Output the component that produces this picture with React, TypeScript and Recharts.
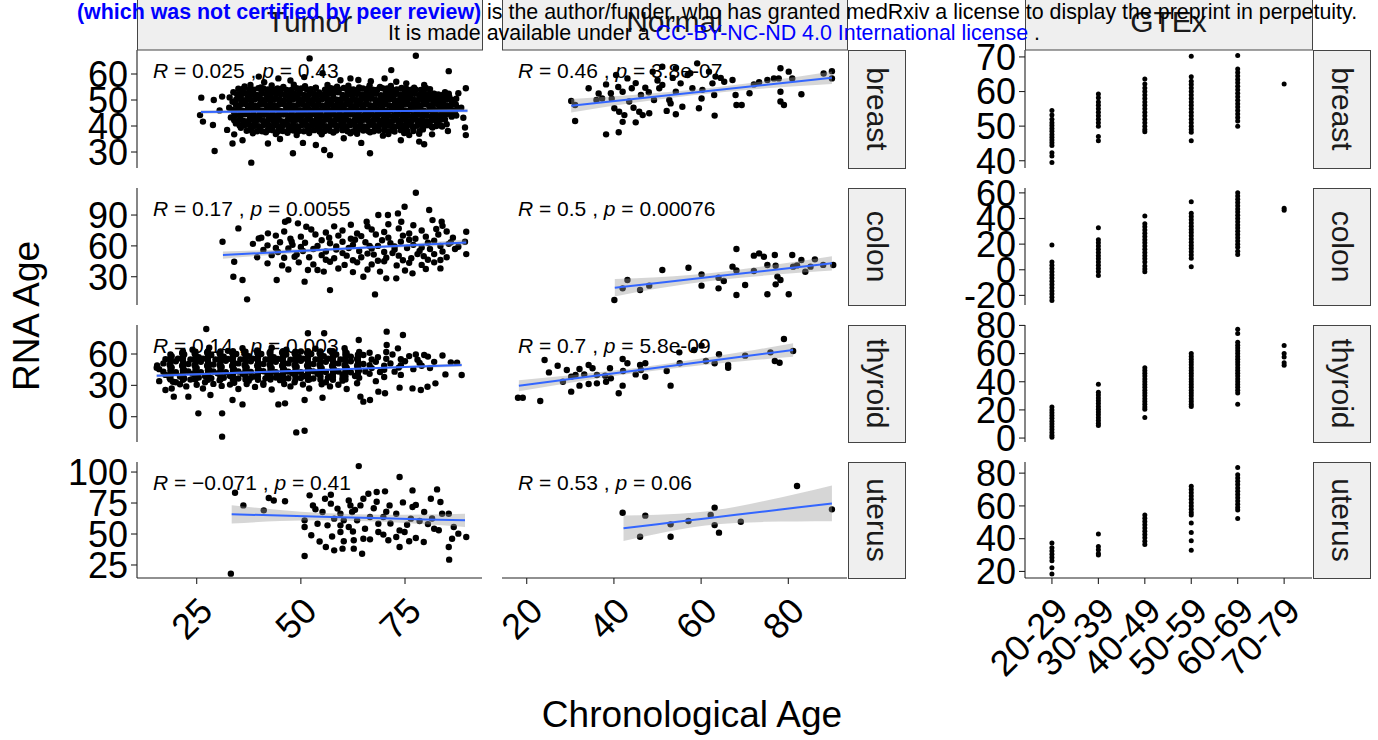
import React from "react";
import { ComposedChart, Scatter, Line, Area, XAxis, YAxis } from "recharts";

type Pt = [number, number];
type FitRow = [number, number, number, number]; // age, fit, lower, upper

const FONT = "'Liberation Sans', Arial, Helvetica, sans-serif";

const tissues = ["breast", "colon", "thyroid", "uterus"];
const ageGroups = ["20-29", "30-39", "40-49", "50-59", "60-69", "70-79"];

const tumorR = ["0.025", "0.17", "0.14", "\u22120.071"];
const tumorP = ["0.43", "0.0055", "0.003", "0.41"];
const normalR = ["0.46", "0.5", "0.7", "0.53"];
const normalP = ["3.8e-07", "0.00076", "5.8e-09", "0.06"];

const tumorAgeTicks = [25, 50, 75];
const normalAgeTicks = [20, 40, 60, 80];
const gtexAgeTicks = [1, 2, 3, 4, 5, 6];
const rnaTicks = [
  [30, 40, 50, 60],
  [30, 60, 90],
  [0, 30, 60],
  [25, 50, 75, 100],
];
const gtexTicks = [
  [40, 50, 60, 70],
  [-20, 0, 20, 40, 60],
  [0, 20, 40, 60, 80],
  [20, 40, 60, 80],
];

// Tumor samples: [chronological age, RNA age]
const tumorBreast: Pt[] = [
  [52.1, 66], [77.6, 67], [85.5, 61.1], [71.7, 61.5], [61.9, 58.3], [63.8, 57.7], [26.1, 50.9], [29.1, 50],
  [31.1, 51.3], [26.5, 41.7], [28.9, 40.4], [32.3, 38.5], [34, 36.8], [29.3, 30.4], [38.1, 25.9], [48.1, 29.5],
  [57, 28.8], [66.6, 29.5], [79.6, 33], [78.4, 34], [89.6, 36.5], [89.4, 39.4], [89.6, 54.5], [87.8, 52.6],
  [89, 43.2], [83.9, 39.8], [85.3, 38.1], [76, 36.5], [79.6, 55.8], [77.2, 54.7], [82.7, 50.6], [84.3, 50.6],
  [42.1, 33.3], [33.6, 33.3], [53.6, 32.7], [55.6, 30.8], [60.3, 35.3], [61.9, 37.2], [69.7, 36.3], [72.1, 38.5],
  [39.9, 59], [37.9, 55.8], [44.6, 58.3], [57.2, 54.5], [55.2, 60.3], [70.1, 58.3], [72.9, 57], [75.3, 56.4],
  [88.5, 47], [87, 45], [86.5, 49.5], [25.8, 44.2], [30.5, 46], [36, 34.5], [45, 35], [50.5, 33.5],
  [64.5, 33.5], [74, 34.5], [81.5, 36.8], [47.5, 57.5], [50.8, 58.8], [59.5, 57.6], [66.8, 57.2], [41.2, 56.8],
  [36.5, 55.2], [40.4, 54.8], [43, 55.6], [45.8, 55], [48.3, 55.9], [51, 55.3], [53.6, 54.7], [56.4, 55.8],
  [58.7, 55.1], [61.4, 55.5], [64, 54.8], [66.5, 55.6], [69, 55], [71.6, 55.4], [74.2, 54.6], [78.8, 53.9], [81, 54.2],
  [33.8, 53], [35.9, 53.4], [38.3, 52.9], [40.6, 53.5], [42.8, 53.1], [45.1, 53.6], [47.5, 52.8], [49.7, 53.3],
  [52, 53.7], [54.4, 52.9], [56.6, 53.4], [58.9, 53], [61.2, 53.6], [63.5, 52.8], [65.8, 53.3], [68.1, 53.8],
  [70.4, 52.9], [72.7, 53.4], [75, 53], [77.3, 52.6], [79.5, 53.2], [82, 52.4], [84.6, 53],
  [32.9, 51], [35, 51.5], [37.2, 50.9], [39.5, 51.4], [41.8, 51.1], [44, 50.7], [46.3, 51.6], [48.6, 51],
  [50.9, 51.3], [53.2, 50.8], [55.5, 51.5], [57.8, 51.1], [60.1, 50.7], [62.4, 51.4], [64.7, 51], [67, 51.6],
  [69.3, 50.8], [71.6, 51.3], [73.9, 51], [76.2, 51.5], [78.5, 50.9], [80.8, 51.2], [83.1, 50.8], [85.6, 51.4],
  [33.6, 49.3], [35.9, 48.9], [38.1, 49.5], [40.4, 49], [42.7, 49.4], [45, 48.8], [47.3, 49.5], [49.6, 49.1],
  [51.9, 48.7], [54.2, 49.4], [56.5, 49], [58.8, 49.6], [61.1, 48.9], [63.4, 49.3], [65.7, 48.8], [68, 49.5],
  [70.3, 49.1], [72.6, 48.7], [74.9, 49.4], [77.2, 49], [79.5, 49.5], [81.8, 48.8], [84.1, 49.2], [86.3, 48.6],
  [32.8, 47], [35.1, 47.5], [37.3, 46.9], [39.6, 47.3], [41.9, 47.6], [44.2, 46.8], [46.5, 47.2], [48.8, 47.7],
  [51.1, 46.9], [53.4, 47.3], [55.7, 47.6], [58, 47], [60.3, 47.4], [62.6, 46.8], [64.9, 47.5], [67.2, 47.1],
  [69.5, 46.7], [71.8, 47.4], [74.1, 47], [76.4, 47.6], [78.7, 46.8], [81, 47.3], [83.3, 47], [85.5, 47.5], [87.6, 46.9],
  [34, 45.1], [36.3, 45.5], [38.6, 44.9], [40.9, 45.3], [43.2, 45.6], [45.5, 44.8], [47.8, 45.2], [50.1, 45.6],
  [52.4, 44.9], [54.7, 45.4], [57, 45], [59.3, 45.5], [61.6, 44.8], [63.9, 45.3], [66.2, 45.7], [68.5, 45],
  [70.8, 45.4], [73.1, 44.8], [75.4, 45.3], [77.7, 45.6], [80, 44.9], [82.3, 45.2], [84.6, 45.6], [86.8, 44.7],
  [33.2, 43.3], [35.5, 42.9], [37.8, 43.5], [40.1, 43], [42.4, 43.4], [44.7, 42.8], [47, 43.5], [49.3, 43.1],
  [51.6, 42.7], [53.9, 43.4], [56.2, 43], [58.5, 43.6], [60.8, 42.9], [63.1, 43.3], [65.4, 42.8], [67.7, 43.5],
  [70, 43.1], [72.3, 42.7], [74.6, 43.4], [76.9, 43], [79.2, 43.5], [81.5, 42.8], [83.8, 43.2], [86.2, 43.6],
  [34.4, 41], [36.7, 41.5], [39, 40.9], [41.3, 41.3], [43.6, 41.6], [45.9, 40.8], [48.2, 41.2], [50.5, 41.7],
  [52.8, 40.9], [55.1, 41.4], [57.4, 41], [59.7, 41.5], [62, 40.8], [64.3, 41.3], [66.6, 41.7], [68.9, 41],
  [71.2, 41.4], [73.5, 40.8], [75.8, 41.3], [78.1, 41.6], [80.4, 40.9], [82.7, 41.2], [85, 40.7],
  [35.6, 39.3], [37.9, 38.8], [40.2, 39.4], [42.5, 39], [44.8, 39.5], [47.1, 38.8], [49.4, 39.2], [51.7, 39.6],
  [54, 38.9], [56.3, 39.3], [58.6, 38.7], [60.9, 39.4], [63.2, 39], [65.5, 39.5], [67.8, 38.8], [70.1, 39.3],
  [72.4, 39.6], [74.7, 38.9], [77, 39.2], [79.3, 38.7], [81.6, 39.4],
  [38.5, 37.2], [41.6, 37.6], [44, 36.9], [46.8, 37.4], [49, 36.5], [52, 37.3], [55, 36.8], [57.8, 37.5],
  [63.5, 37], [66.6, 37.6], [71, 36.9], [74.8, 37.3], [78.4, 37],
  [35, 54.3], [37.6, 54], [39.8, 54.5], [42.1, 54.1], [44.4, 54.4], [46.6, 53.9], [49, 54.5], [51.3, 54.2],
  [53.5, 54.6], [55.8, 54], [58.1, 54.3], [60.3, 54.6], [62.6, 54.1], [64.9, 54.4], [67.3, 54], [69.6, 54.5],
  [71.8, 54.1], [74.1, 54.4], [76.5, 54], [80, 54.6],
  [34.7, 52.2], [37, 52.5], [39.4, 51.9], [41.7, 52.3], [44, 52.6], [46.2, 52], [48.5, 52.4], [50.8, 51.9],
  [53.1, 52.5], [55.4, 52.1], [57.7, 52.4], [60, 51.9], [62.3, 52.5], [64.6, 52.1], [66.9, 52.3], [69.2, 51.8],
  [71.5, 52.4], [73.8, 52.1], [76.1, 52.5], [78.4, 51.9], [80.7, 52.3], [83, 52.1], [85.5, 52.4],
  [34.5, 50.2], [36.8, 49.9], [39.1, 50.4], [41.4, 50], [43.7, 50.3], [46, 49.8], [48.3, 50.4], [50.6, 50.1],
  [52.9, 49.9], [55.2, 50.4], [57.5, 50], [59.8, 50.3], [62.1, 49.8], [64.4, 50.2], [66.7, 50.5], [69, 49.9],
  [71.3, 50.2], [73.6, 49.8], [75.9, 50.4], [78.2, 50], [80.5, 50.3], [82.8, 49.9], [85.1, 50.2], [87.3, 50.5],
  [34.4, 48.2], [36.7, 48.5], [39, 47.9], [41.3, 48.3], [43.6, 48], [45.9, 48.4], [48.2, 47.9], [50.5, 48.3],
  [52.8, 48.5], [55.1, 47.9], [57.4, 48.2], [59.7, 48.4], [62, 47.8], [64.3, 48.3], [66.6, 48], [68.9, 48.5],
  [71.2, 47.9], [73.5, 48.2], [75.8, 48.4], [78.1, 47.9], [80.4, 48.2], [82.7, 48.5], [85, 47.9], [87.2, 48.3],
  [33.7, 46.2], [36, 45.9], [38.3, 46.4], [40.6, 46], [42.9, 46.3], [45.2, 45.8], [47.5, 46.4], [49.8, 46.1],
  [52.1, 46.3], [54.4, 45.9], [56.7, 46.2], [59, 46.5], [61.3, 45.9], [63.6, 46.2], [65.9, 46], [68.2, 46.4],
  [70.5, 45.9], [72.8, 46.3], [75.1, 46], [77.4, 46.4], [79.7, 45.8], [82, 46.2], [84.3, 46.5], [86.6, 46],
  [34.3, 44.2], [36.6, 44.5], [38.9, 43.9], [41.2, 44.3], [43.5, 44], [45.8, 44.4], [48.1, 43.9], [50.4, 44.2],
  [52.7, 44.5], [55, 43.9], [57.3, 44.3], [59.6, 44], [61.9, 44.4], [64.2, 43.8], [66.5, 44.2], [68.8, 44.5],
  [71.1, 43.9], [73.4, 44.3], [75.7, 44], [78, 44.4], [80.3, 43.9], [82.6, 44.2], [84.9, 44.5], [87.3, 44],
  [34, 42.2], [36.3, 41.9], [38.6, 42.4], [40.9, 42], [43.2, 42.3], [45.5, 41.8], [47.8, 42.4], [50.1, 42.1],
  [52.4, 42.3], [54.7, 41.9], [57, 42.2], [59.3, 42.5], [61.6, 41.9], [63.9, 42.2], [66.2, 42], [68.5, 42.4],
  [70.8, 41.9], [73.1, 42.3], [75.4, 42], [77.7, 42.4], [80, 41.8], [82.3, 42.2], [84.6, 42.5],
  [35.3, 40.2], [37.6, 40.5], [39.9, 39.9], [42.2, 40.3], [44.5, 40], [46.8, 40.4], [49.1, 39.9], [51.4, 40.2],
  [53.7, 40.5], [56, 39.9], [58.3, 40.3], [60.6, 40], [62.9, 40.4], [65.2, 39.8], [67.5, 40.2], [69.8, 40.5],
  [72.1, 39.9], [74.4, 40.3], [76.7, 40], [79, 40.4], [81.3, 39.9], [83.6, 40.2],
  [37, 38.2], [39.5, 38], [42, 38.4], [44.5, 37.9], [47, 38.3], [49.5, 38.1], [52, 38.4], [54.5, 37.9],
  [57, 38.2], [60, 38.4], [62.5, 37.9], [65, 38.3], [67.5, 38], [70, 38.4], [72.5, 37.9], [75.5, 38.2], [78.5, 38],
  [36.2, 54.3], [38.7, 54], [41, 54.4], [43.3, 54.1], [45.5, 54.3], [47.8, 54], [50.1, 54.4], [52.4, 54.2],
  [57, 54.3], [59.2, 54], [61.5, 54.4], [63.8, 54.1], [66.1, 54.3], [68.4, 54], [70.7, 54.4], [73, 54.1], [75.3, 54.3], [77.6, 54],
  [35.9, 52.3], [38.2, 52], [40.5, 52.4], [42.8, 52.1], [45.1, 52.3], [47.4, 52], [49.7, 52.4], [52, 52.2],
  [54.3, 52], [56.6, 52.4], [61.2, 52.1], [63.5, 52.3], [65.8, 52], [68.1, 52.4], [70.4, 52.1], [72.7, 52.3],
  [75, 52], [77.3, 52.4], [79.6, 52.1], [81.9, 52.3], [84.2, 52],
  [35.7, 50.3], [38, 50], [40.3, 50.4], [42.6, 50.1], [44.9, 50.3], [47.2, 50], [49.5, 50.4], [51.8, 50.2],
  [54.1, 50], [56.4, 50.4], [58.7, 50.1], [61, 50.3], [63.3, 50], [65.6, 50.4], [67.9, 50.1], [70.2, 50.3],
  [72.5, 50], [74.8, 50.4], [77.1, 50.1], [79.4, 50.3], [81.7, 50], [84, 50.4], [86.2, 50.1],
  [35.6, 48.3], [37.9, 48], [40.2, 48.4], [42.5, 48.1], [44.8, 48.3], [47.1, 48], [49.4, 48.4], [51.7, 48.2],
  [54, 48], [56.3, 48.4], [58.6, 48.1], [60.9, 48.3], [63.2, 48], [65.5, 48.4], [67.8, 48.1], [70.1, 48.3],
  [72.4, 48], [74.7, 48.4], [77, 48.1], [79.3, 48.3], [81.6, 48], [83.9, 48.4], [86.1, 48.1],
  [34.9, 46.3], [37.2, 46], [39.5, 46.4], [41.8, 46.1], [44.1, 46.3], [46.4, 46], [48.7, 46.4], [51, 46.2],
  [53.3, 46], [55.6, 46.4], [57.9, 46.1], [60.2, 46.3], [62.5, 46], [64.8, 46.4], [67.1, 46.1], [69.4, 46.3],
  [71.7, 46], [74, 46.4], [76.3, 46.1], [78.6, 46.3], [80.9, 46], [83.2, 46.4], [85.5, 46.1],
  [35.5, 44.3], [37.8, 44], [40.1, 44.4], [42.4, 44.1], [44.7, 44.3], [47, 44], [49.3, 44.4], [51.6, 44.2],
  [53.9, 44], [56.2, 44.4], [58.5, 44.1], [60.8, 44.3], [63.1, 44], [65.4, 44.4], [67.7, 44.1], [70, 44.3],
  [72.3, 44], [74.6, 44.4], [76.9, 44.1], [79.2, 44.3], [81.5, 44], [83.8, 44.4], [86.1, 44.1],
  [35.2, 42.3], [37.5, 42], [39.8, 42.4], [42.1, 42.1], [44.4, 42.3], [46.7, 42], [49, 42.4], [51.3, 42.2],
  [53.6, 42], [55.9, 42.4], [58.2, 42.1], [60.5, 42.3], [62.8, 42], [65.1, 42.4], [67.4, 42.1], [69.7, 42.3],
  [72, 42], [74.3, 42.4], [76.6, 42.1], [78.9, 42.3], [81.2, 42], [83.5, 42.4],
  [36.5, 40.3], [38.8, 40], [41.1, 40.4], [43.4, 40.1], [45.7, 40.3], [48, 40], [50.3, 40.4], [52.6, 40.2],
  [54.9, 40], [57.2, 40.4], [59.5, 40.1], [61.8, 40.3], [64.1, 40], [66.4, 40.4], [68.7, 40.1], [71, 40.3],
  [73.3, 40], [75.6, 40.4], [77.9, 40.1], [80.2, 40.3], [82.5, 40],
  [38.2, 38.3], [40.7, 38], [43.2, 38.4], [45.7, 38.1], [48.2, 38.3], [50.7, 38], [53.2, 38.4], [55.7, 38.1],
  [58.5, 38.3], [61.2, 38], [63.7, 38.4], [66.2, 38.1], [68.7, 38.3], [71.2, 38], [74, 38.4], [77, 38.1],
];

const tumorColon: Pt[] = [
  [77.6, 111.7], [31.2, 64], [35, 77], [34, 44.6], [33.8, 30], [36, 26.8], [37.1, 8], [42.1, 72.2],
  [39.9, 67.3], [44.2, 26.8], [57, 17], [67.8, 12.8], [50.9, 25.2], [54, 36.5], [65, 30], [70.5, 28.4],
  [72.9, 28.4], [76.8, 33.3], [83.5, 46.2], [83.5, 38.1], [89.7, 73.8], [89.7, 52], [89.4, 64], [87.8, 59.2],
  [80.8, 94.9], [81.6, 85.1], [83.8, 83.5], [74.9, 98.1], [73.3, 91.6], [70.9, 90], [68.6, 90], [65.8, 83.5],
  [74.1, 83.5], [46.2, 83.5], [47, 85], [49.3, 81.9], [51.3, 78.6], [47.8, 64], [48.5, 49.5], [51.7, 36.5],
  [46, 74], [52.5, 76], [56, 73], [60, 75], [63.5, 72], [67, 76], [70, 73.5], [73.5, 77], [76, 72], [79, 75], [82.5, 76.5], [85, 74],
  [40.5, 68], [44, 70], [47.5, 67], [50, 69], [53.5, 71], [56.8, 68], [59, 70], [62, 67], [64.5, 69.5], [68, 71],
  [71, 68], [74.5, 70], [77.5, 67], [80, 69], [83, 71], [86.5, 68],
  [38.5, 62], [42, 60.5], [45, 63.5], [48, 61], [51, 63], [54, 60], [57, 62.5], [60, 64], [62.5, 61], [65.5, 63.5],
  [68.5, 60], [71.5, 62.5], [74, 64], [77, 61], [80.5, 63], [83.5, 60], [86, 63.5],
  [41, 56], [44.5, 54], [47, 57.5], [50.5, 55], [53, 57], [56, 54.5], [58.5, 56.5], [61.5, 58], [64, 55], [67, 57.5],
  [70, 54], [72.5, 56.5], [75.5, 58], [78.5, 55], [81, 57], [84, 54.5], [87, 57],
  [39.5, 49], [43, 51], [46, 48.5], [49, 51.5], [52, 49], [55, 51], [58, 48], [61, 50.5], [64.5, 49], [67.5, 51.5],
  [70.5, 48.5], [73.5, 50.5], [76.5, 48], [79.5, 50], [82, 52], [85, 49],
  [42, 43], [45.5, 41], [49.5, 44], [53, 42], [57, 44.5], [60.5, 41.5], [63.5, 44], [67, 42], [70, 45], [73, 41],
  [76, 43.5], [79, 41.5], [82, 44],
  [47, 37], [55.5, 35], [59, 38], [62.5, 34.5], [66, 37], [69, 35], [75, 36], [80, 37.5],
  [58, 79], [62, 80.5], [66, 79], [71, 81], [77, 80], [84, 79.5], [55, 65.5], [58.5, 59.5], [63, 66],
  [66.5, 60], [69.5, 65.5], [72.5, 59.5], [76, 66], [79, 58.5], [82, 65], [85.5, 62], [60, 53], [66, 52.5],
  [72, 53], [78, 52], [56, 46.5], [62.5, 46], [68.5, 45.5], [74.5, 46], [80.5, 46.5], [50, 59], [44, 58],
];

const tumorThyroid: Pt[] = [
  [27.3, 83.9], [15.4, 46.9], [17.5, 25.5], [19.5, 19.2], [25.4, 3.2], [31.1, 3.2], [31.1, -19.1], [48.9, -15],
  [50.9, -13.4], [44.6, 11.8], [46.2, 12.8], [50.9, 16], [55.2, 18.2], [51.7, 79.8], [55.6, 79.8], [63.9, 73.4],
  [70.6, 81.4], [74.5, 78.2], [79.6, 59], [77.6, 59.5], [88.6, 39.9], [87.5, 51.7], [84.7, 40.5], [82.3, 31.9],
  [80.4, 28.7], [78.8, 25.5], [76.8, 27.1], [73.7, 27.8], [70.2, 22.4], [68.6, 24], [64.3, 19.2], [65, 14.4],
  [66.6, 16], [36, 11.8], [33.6, 16], [28.3, 20.8], [23, 19.2], [19.3, 33.5], [73.3, 65.4], [70.6, 68.6],
  [24, 64], [28, 66], [32.5, 63], [36, 65.5], [39.5, 63.5], [43, 66], [46.5, 64], [50, 62.5], [53.5, 65], [57, 63],
  [60.5, 65.5], [64, 62],
  [19, 58], [22, 59.5], [25.5, 57], [28.5, 59], [31.5, 57.5], [34.5, 60], [37.5, 58], [40.5, 60], [43.5, 57],
  [46.5, 59.5], [49.5, 57.5], [52.5, 60], [55.5, 58], [58.5, 59.5], [62, 57.5], [65, 59], [68.5, 57], [72, 59.5],
  [76, 58], [80.5, 57.5], [84, 58.5],
  [17, 51], [20, 53], [23, 50.5], [26, 52.5], [29, 50], [32, 53.5], [35, 51], [38, 53], [41, 50.5], [44, 52.5],
  [47, 51], [50, 53.5], [53, 50.5], [56, 52.5], [59, 51], [62, 53], [65, 50.5], [68, 52.5], [71.5, 51], [75, 53],
  [78.5, 51.5], [82, 52.5], [86, 52],
  [16, 45.5], [19, 47], [22, 44.5], [25, 46.5], [28, 45], [31, 47.5], [34, 45], [37, 47], [40, 44.5], [43, 46.5],
  [46, 45], [49, 47.5], [52, 44.5], [55, 46.5], [58, 45], [61, 47], [64, 44.5], [67, 46.5], [70, 45], [73.5, 47],
  [77, 45.5], [81, 46.5],
  [17.5, 40], [21, 38.5], [24, 41], [27, 39], [30, 41.5], [33, 39], [36, 41], [39, 38.5], [42, 40.5], [45, 39],
  [48, 41.5], [51, 39], [54, 41], [57, 38.5], [60, 40.5], [63, 39], [66.5, 41], [70, 38], [74, 40],
  [16, 34], [20, 33], [23.5, 35.5], [27, 33], [30.5, 35], [34, 32.5], [37.5, 34.5], [41, 32], [45, 35], [48.5, 33],
  [52, 35.5], [56, 33], [60, 34.5], [63.5, 32], [68, 34],
  [19, 27], [22.5, 29], [26.5, 27], [31, 29.5], [35, 26.5], [39, 28.5], [43, 26], [47.5, 29], [52, 27], [57, 29], [61, 26.5],
  [21.5, 61], [24.5, 60.5], [27.5, 61.5], [30.5, 60.8], [33.5, 61.3], [36.5, 60.6], [39.5, 61.4], [42.5, 60.9],
  [45.5, 61.5], [48.5, 60.7], [51.5, 61.2], [54.5, 60.6], [57.5, 61.4], [61, 60.8], [66.5, 61.2], [70.5, 62],
  [17.5, 55], [20.5, 55.6], [23.5, 54.8], [26.5, 55.4], [29.5, 54.7], [32.5, 55.3], [35.5, 54.9], [38.5, 55.6],
  [41.5, 54.8], [44.5, 55.3], [47.5, 54.6], [50.5, 55.4], [53.5, 54.9], [56.5, 55.5], [59.5, 54.7], [63.5, 55.2],
  [67, 54.8], [70.5, 55.5], [74, 55], [78, 54.6],
  [15.5, 49], [18.5, 49.6], [21.5, 48.7], [24.5, 49.3], [27.5, 48.8], [30.5, 49.5], [33.5, 48.6], [36.5, 49.2],
  [39.5, 48.8], [42.5, 49.6], [45.5, 48.7], [48.5, 49.3], [51.5, 48.9], [54.5, 49.5], [57.5, 48.6], [60.5, 49.2],
  [63.5, 48.8], [66.5, 49.4], [70, 48.9], [74, 49.3], [79, 48.8],
  [17, 43], [20, 42.5], [23, 43.4], [26, 42.7], [29, 43.3], [32, 42.6], [35, 43.2], [38, 42.8], [41, 43.5],
  [44, 42.6], [47, 43.1], [50, 42.7], [53, 43.4], [56, 42.8], [59, 43.2], [62, 42.6], [65.5, 43.3], [69, 42.8], [72.5, 43.1],
  [18.5, 37], [22, 36.6], [25.5, 37.4], [28.5, 36.8], [31.5, 37.3], [35, 36.5], [38, 37.2], [41.5, 36.7],
  [44, 37.4], [47, 36.8], [50, 37.1], [53, 36.5], [56.5, 37.3], [60, 36.8], [64, 37.2],
  [21, 31], [25, 30.6], [29, 31.4], [33, 30.7], [37, 31.2], [41, 30.5], [46, 31.3], [50.5, 30.8], [55, 31.1], [59, 30.6],
  [21.7, 62.5], [24.7, 62.3], [27.7, 62.7], [30.7, 62.4], [33.7, 62.6], [36.7, 62.3], [39.7, 62.7], [42.7, 62.4],
  [45.7, 62.6], [48.7, 62.3], [51.7, 62.7], [54.7, 62.4], [57.7, 62.6], [60.7, 62.3],
  [18.7, 59.5], [21.7, 59.3], [24.7, 59.7], [27.7, 59.4], [30.7, 59.6], [33.7, 59.3], [36.7, 59.7], [39.7, 59.4],
  [42.7, 59.6], [45.7, 59.3], [48.7, 59.7], [51.7, 59.4], [54.7, 59.6], [57.7, 59.3], [60.7, 59.7], [63.7, 59.4],
  [18.7, 56.5], [21.7, 56.3], [24.7, 56.7], [27.7, 56.4], [30.7, 56.6], [33.7, 56.3], [36.7, 56.7], [39.7, 56.4],
  [42.7, 56.6], [45.7, 56.3], [48.7, 56.7], [51.7, 56.4], [54.7, 56.6], [57.7, 56.3], [60.7, 56.7], [63.7, 56.4],
  [18.7, 53.5], [21.7, 53.3], [24.7, 53.7], [27.7, 53.4], [30.7, 53.6], [33.7, 53.3], [36.7, 53.7], [39.7, 53.4],
  [42.7, 53.6], [45.7, 53.3], [48.7, 53.7], [51.7, 53.4], [54.7, 53.6], [57.7, 53.3], [60.7, 53.7], [63.7, 53.4],
  [18.7, 50.5], [21.7, 50.3], [24.7, 50.7], [27.7, 50.4], [30.7, 50.6], [33.7, 50.3], [36.7, 50.7], [39.7, 50.4],
  [42.7, 50.6], [45.7, 50.3], [48.7, 50.7], [51.7, 50.4], [54.7, 50.6], [57.7, 50.3], [60.7, 50.7], [63.7, 50.4],
  [18.7, 47.5], [21.7, 47.3], [24.7, 47.7], [27.7, 47.4], [30.7, 47.6], [33.7, 47.3], [36.7, 47.7], [39.7, 47.4],
  [42.7, 47.6], [45.7, 47.3], [48.7, 47.7], [51.7, 47.4], [54.7, 47.6], [57.7, 47.3], [60.7, 47.7], [63.7, 47.4],
  [18.7, 44.5], [21.7, 44.3], [24.7, 44.7], [27.7, 44.4], [30.7, 44.6], [33.7, 44.3], [36.7, 44.7], [39.7, 44.4],
  [42.7, 44.6], [45.7, 44.3], [48.7, 44.7], [51.7, 44.4], [54.7, 44.6], [57.7, 44.3], [60.7, 44.7], [63.7, 44.4],
  [18.7, 41.5], [21.7, 41.3], [24.7, 41.7], [27.7, 41.4], [30.7, 41.6], [33.7, 41.3], [36.7, 41.7], [39.7, 41.4],
  [42.7, 41.6], [45.7, 41.3], [48.7, 41.7], [51.7, 41.4], [54.7, 41.6], [57.7, 41.3], [60.7, 41.7], [63.7, 41.4],
  [18.7, 38.5], [21.7, 38.3], [24.7, 38.7], [27.7, 38.4], [30.7, 38.6], [33.7, 38.3], [36.7, 38.7], [39.7, 38.4],
  [42.7, 38.6], [45.7, 38.3], [48.7, 38.7], [51.7, 38.4], [54.7, 38.6], [57.7, 38.3], [60.7, 38.7],
  [18.7, 35.5], [21.7, 35.3], [24.7, 35.7], [27.7, 35.4], [30.7, 35.6], [33.7, 35.3], [36.7, 35.7], [39.7, 35.4],
  [42.7, 35.6], [45.7, 35.3], [48.7, 35.7], [51.7, 35.4], [54.7, 35.6], [57.7, 35.3], [60.7, 35.7],
];

const tumorUterus: Pt[] = [
  [63.9, 104.8], [73.7, 96], [34.2, 83.3], [36.2, 73.1], [41.1, 69.1], [42.3, 79], [43.5, 77], [46.2, 76.4],
  [33.2, 18], [50.9, 32.3], [50.9, 61], [50.9, 55.6], [52.1, 81.2], [52.9, 73.1], [54, 58.3], [52.5, 49],
  [56, 39.5], [58, 36.8], [60, 38.2], [60.3, 44.1], [62.7, 44.9], [62.7, 38.2], [64.7, 34.1], [57.2, 81.7],
  [57.2, 74.5], [55.2, 67.7], [59.5, 66.4], [61.5, 77.1], [61.9, 73.1], [64.3, 73.1], [62.3, 67.7], [59.5, 57],
  [61.5, 55.6], [59.5, 51.6], [66.2, 82.5], [68.2, 83.9], [70.2, 84.4], [68.2, 76], [66.6, 63.7], [68.6, 58.3],
  [68.6, 51.6], [66.6, 45.7], [69.8, 49.5], [71, 44.9], [71.3, 73.1], [72.9, 66.4], [73.7, 52.9], [72.9, 47.6],
  [73.7, 39.5], [74.9, 51.6], [76.8, 85.2], [76.8, 71.8], [77.6, 73.5], [76.4, 62.4], [76, 44.1], [77.6, 46.8],
  [79.6, 67.7], [81.2, 78.5], [82.7, 86], [82, 54.3], [83.1, 53], [83.5, 75.8], [83.9, 66.4], [85.5, 66.4],
  [85.5, 39.5], [85.6, 29.3], [86.3, 46.2], [87.8, 50.3], [89.7, 47.6], [86.7, 55.6], [65, 78.5], [65.4, 54.3],
  [56.4, 57], [58, 62.4], [60.3, 61], [63.5, 61], [65, 46.2], [69.8, 63.7], [53.5, 70], [55.8, 78.5],
  [58.8, 70.5], [63, 69.5], [67.5, 70.8], [70.5, 68], [74.5, 75.5], [78.5, 60.5], [80.5, 58], [81.5, 62.5],
  [75.5, 57.5], [71.5, 58.5], [62.5, 52], [57.5, 48], [54.5, 44], [79.5, 43.5],
];

// Normal samples: [chronological age, RNA age]
const normalBreast: Pt[] = [
  [30.2, 49.6], [31.1, 48.1], [31.1, 41.9], [34.2, 54.5], [37.3, 50.6], [38.2, 36.8], [41.1, 37.6], [38.2, 56],
  [39.3, 52.6], [40.1, 46.8], [41.2, 45.5], [42.4, 44.2], [42, 41.6], [43.1, 58.3], [44.1, 54.5], [45, 41.4],
  [45.8, 45.5], [46.6, 44.2], [48.1, 44.9], [46.2, 51.9], [47.2, 54.7], [49.2, 50], [50.4, 54.5], [51.1, 55.8],
  [52.1, 45.8], [53, 48.7], [54.2, 44.5], [54.2, 53.2], [55.7, 47.4], [55.3, 56.4], [56.9, 59.6], [59.1, 64.1],
  [59.5, 46.8], [60.1, 50.6], [60.3, 53.9], [62.6, 56.4], [63, 51.9], [63.1, 44], [63.3, 59], [65.3, 57],
  [67.2, 57.7], [67.9, 51.9], [68.1, 48.1], [69.3, 48.1], [71.1, 52.6], [72.1, 56], [73.3, 56.8], [75.2, 57.7],
  [76.7, 58.3], [78.2, 62.2], [77.8, 58.3], [78.2, 53.2], [78.2, 49.4], [79, 48.1], [80.1, 60.9], [80.9, 58.3],
  [83, 52.2], [88.1, 60.2], [90, 61.1], [90, 58.3], [48.9, 60.9], [51.1, 62.8], [54.2, 62.2], [57.5, 60.3],
  [61.8, 60.9], [64.5, 58.5], [40.5, 59.6], [36, 50], [52.7, 50], [43.5, 49.4], [42, 53.2], [58, 54.5], [44.5, 47],
  [39.5, 50.5], [41, 55], [45, 56.5], [48, 53], [50, 57.5], [53.5, 58.5], [36.5, 52.5],
];

const normalColon: Pt[] = [
  [40.1, 7.4], [42, 18.7], [43.1, 26.8], [46, 17.1], [48.1, 21.3], [51.1, 36.5], [57.1, 38.8], [60.1, 32.3],
  [60.1, 21.3], [64, 29.1], [64, 18.7], [65.2, 25.8], [67.2, 39.8], [68.1, 57], [68.1, 36], [68.1, 12.2],
  [70.1, 21.9], [72.1, 35.6], [72.1, 50.5], [73.3, 52.7], [74.4, 49.5], [75.2, 41.4], [75.2, 12.9], [77.1, 40.7],
  [77.5, 30.1], [77.1, 22.6], [78.2, 26.8], [80.1, 12.9], [80.9, 51.1], [81.1, 39.8], [82, 41], [83, 46.2],
  [83.9, 34.9], [85.1, 39.8], [86.1, 46.9], [90.3, 41.4], [88, 41.5], [76.9, 51.1],
];

const normalThyroid: Pt[] = [
  [18, 18.2], [19.1, 18.2], [23.1, 15], [24.1, 54.3], [25.1, 42.4], [27.1, 48.8], [28.3, 33.5], [29.2, 44.7],
  [30.2, 24], [30.2, 38.3], [31.2, 39.9], [32.1, 45.6], [32.1, 29.7], [33.2, 40.5], [34.2, 49.5], [34.2, 31.3],
  [35.1, 46.3], [36.1, 39.9], [36.1, 31.9], [38, 39.3], [38.2, 33.5], [39.1, 46.3], [39.3, 36.7], [41.1, 22.4],
  [42, 55.2], [42, 29.7], [42.1, 43.7], [43.1, 51.1], [45, 40.5], [46, 49.5], [46.2, 44.7], [47.2, 51.1],
  [47.2, 38.3], [52.1, 43.7], [53, 29.7], [55, 61.6], [55.1, 51.1], [58.4, 63.8], [60.1, 68], [61.1, 53.3],
  [63.1, 51.1], [64.1, 59.7], [66.2, 49.5], [66.2, 46.9], [70.1, 58.4], [75.9, 61.6], [76.9, 53.3], [78, 51.7],
  [79, 74.4], [81.1, 62.9],
];

const normalUterus: Pt[] = [
  [42, 67.2], [47.2, 64.8], [46, 47.8], [53, 57.8], [53, 47.8], [57.1, 60.5], [62.2, 65.3], [63.1, 71.2],
  [63.1, 57.2], [64.1, 51.1], [69.1, 59.9], [82, 88.7], [90, 69.9],
];

// linear fits with 95% band: [age, fit, lower, upper]
const tumorBreastFit: FitRow[] = [[26, 45.4, 44.7, 46.1], [45, 45.6, 45.2, 46.0], [60, 45.7, 45.4, 46.0], [75, 45.8, 45.4, 46.2], [90, 45.9, 45.2, 46.6]];
const tumorColonFit: FitRow[] = [[31.3, 51.1, 47.6, 54.6], [45, 54.0, 51.8, 56.2], [60, 57.1, 55.8, 58.4], [75, 60.3, 58.7, 61.9], [89.7, 63.4, 60.6, 66.2]];
const tumorThyroidFit: FitRow[] = [[15.4, 39.2, 37.6, 40.8], [35, 42.0, 41.0, 43.0], [55, 44.8, 44.0, 45.6], [75, 47.6, 46.6, 48.6], [88.6, 49.5, 47.9, 51.1]];
const tumorUterusFit: FitRow[] = [[33.4, 65.9, 58.5, 73.3], [45, 64.9, 60.4, 69.4], [55, 64.0, 61.1, 66.9], [62, 63.4, 60.7, 66.1], [70, 62.7, 59.8, 65.6], [80, 61.8, 57.8, 65.8], [89.4, 61.0, 55.6, 66.4]];
const normalBreastFit: FitRow[] = [[30.2, 47.8, 45.2, 50.4], [45, 50.5, 49.0, 52.0], [60, 53.2, 52.2, 54.2], [75, 55.9, 54.5, 57.3], [90, 58.6, 56.2, 61.0]];
const normalColonFit: FitRow[] = [[40.2, 19.3, 10.8, 27.8], [50, 24.0, 18.5, 29.5], [65, 31.1, 27.3, 34.9], [78, 37.3, 32.3, 42.3], [90, 43.0, 36.0, 50.0]];
const normalThyroidFit: FitRow[] = [[18.2, 29.7, 24.4, 35.0], [30, 36.1, 32.6, 39.6], [45, 44.2, 41.8, 46.6], [60, 52.4, 49.2, 55.6], [70, 57.8, 53.3, 62.3], [81.1, 63.8, 57.3, 70.3]];
const normalUterusFit: FitRow[] = [[42.2, 54.6, 44.3, 64.9], [50, 57.9, 50.3, 65.5], [55, 60.0, 53.7, 66.3], [61, 62.5, 56.8, 68.2], [68, 65.5, 58.9, 72.0], [75, 68.4, 59.8, 77.0], [82, 71.3, 60.1, 82.5], [90, 74.7, 60.2, 89.2]];

// GTEx RNA age per age group (20-29 ... 70-79)
const gtexBreast = [
  [54.5, 53.2, 52, 51, 50.2, 49.3, 48.5, 47.6, 46.8, 46, 45.2, 44.4, 42.3, 41.4, 39.5],
  [59.3, 58.2, 57, 56, 55, 54, 53, 52, 51, 50, 47, 45.8],
  [63.6, 62.2, 61, 60, 59, 58, 57, 56, 55, 54, 53, 52, 51, 50, 49, 48.4],
  [70.2, 64.3, 63, 62, 61, 60, 59, 58, 57, 56, 55, 54, 53, 52, 51, 50, 49, 48.2, 45.8],
  [70.4, 66.5, 65.5, 64.5, 63.5, 62.5, 61.5, 60.5, 59.5, 58.5, 57.5, 56.5, 55.5, 54.5, 53.5, 52.5, 51.5, 50],
  [62.2],
];
const gtexColon = [
  [19.4, 6, 3.5, 1, -1.5, -4, -6.5, -9, -11.5, -14, -16.5, -19, -21.5, -24],
  [32.8, 23.5, 21, 18.5, 16, 13.5, 11, 8.5, 6, 3.5, 1, -1.5, -4.5],
  [41.9, 36, 33.5, 31, 28.5, 26, 23.5, 21, 18.5, 16, 13.5, 11, 8.5, 6, 3, 0.5, -1.5],
  [53, 44, 41.5, 39, 36.5, 34, 31.5, 29, 26.5, 24, 21.5, 19, 16.5, 14, 11.5, 9, 2.3],
  [60, 57.5, 55, 52.5, 50, 47.5, 45, 42.5, 40, 37.5, 35, 32.5, 30, 27.5, 25, 22.5, 20, 17.5, 14.5, 12],
  [48, 46.5],
];
const gtexThyroid = [
  [22, 20, 18, 16, 14, 12, 10, 8, 6, 4, 2, 0.5],
  [38.2, 32.5, 30.5, 28.5, 26.5, 24.5, 22.5, 20.5, 18.5, 16.5, 14.5, 12.5, 10.5, 9],
  [50, 48, 46, 44, 42, 40, 38, 36, 34, 32, 30, 28, 26, 24, 22, 20.5, 14.6],
  [60, 58, 56, 54, 52, 50, 48, 46, 44, 42, 40, 38, 36, 34, 32, 30, 28, 26, 24, 22.5],
  [77.2, 74.3, 68, 66, 64, 62, 60, 58, 56, 54, 52, 50, 48, 46, 44, 42, 40, 38, 36, 34, 32, 24],
  [65.8, 60, 57.6, 53.5, 51.7],
];
const gtexUterus = [
  [37.4, 34.5, 32.5, 30.5, 28.5, 26.5, 22.2, 18.5],
  [42.8, 35.3, 33.3, 31, 30],
  [54.5, 52.5, 50.5, 48.5, 46.5, 44.5, 42.5, 40.5, 38.5, 36.5],
  [72, 70, 68, 66, 64, 62, 60, 58, 56, 54.5, 49.5, 43.8, 38.8, 33],
  [83.5, 79, 77, 75, 73, 71, 69, 67, 65, 63, 61, 59, 57.5, 52.3],
  [],
];

// layout
const rowTop = [50, 188, 325, 462];
const rowHeight = [118, 117, 117, 116];
const tumorCol = { left: 137, width: 345 };
const normalCol = { left: 502, width: 345 };
const gtexCol = { left: 1025, width: 287 };
const tumorX: [number, number] = [10.67, 93.48];
const normalX: [number, number] = [14.33, 93.46];
const gtexX: [number, number] = [0.42, 6.6];
const rnaDomains: [number, number][] = [[23.85, 69.23], [2.5, 116.3], [-24.2, 87.75], [14.5, 108.1]];
const gtexDomains: [number, number][] = [[37.9, 72], [-27.5, 63.8], [-2.8, 80.3], [16, 86.8]];

const toPts = (arr: Pt[]) => arr.map(([x, y]) => ({ x, y }));
const gtexPts = (cols: number[][]) => cols.flatMap((ys, i) => ys.map((y) => ({ x: i + 1, y })));

const AngledTick = (props: any) => {
  const { x, y, payload, labels } = props;
  const text = labels ? labels[Math.round(payload.value) - 1] : String(payload.value);
  return (
    <g transform={`translate(${x},${y})`}>
      <text textAnchor="end" dy="0.71em" transform="rotate(-45)" fontSize={36} fontFamily={FONT} fill="#000">
        {text}
      </text>
    </g>
  );
};

type PanelProps = {
  left: number;
  top: number;
  width: number;
  height: number;
  xDomain: [number, number];
  yDomain: [number, number];
  xTicks?: number[];
  xLabels?: string[];
  yTicks?: number[];
  points: { x: number; y: number }[];
  fit?: FitRow[];
  r: number;
};

const PAD = 22;

function Panel(p: PanelProps) {
  const axisW = p.yTicks ? 80 : 0;
  const padL = p.yTicks ? 0 : 40;
  const axisH = p.xTicks ? 110 : 0;
  const fitData = (p.fit || []).map(([x, y, lo, hi]) => ({ x, fit: y, band: [lo, hi] }));
  const axisStyle = { stroke: "#222", strokeWidth: 1.1 };
  const W = p.width + axisW + padL;
  const H = p.height + axisH + PAD * 2;
  const box = { position: "absolute" as const, left: p.left - axisW - padL, top: p.top - PAD };
  return (
    <>
      <div style={box}>
        <ComposedChart width={W} height={H} margin={{ top: PAD, right: 0, bottom: PAD, left: padL }}>
          <XAxis
            type="number"
            dataKey="x"
            domain={p.xDomain}
            allowDataOverflow
            hide={!p.xTicks}
            ticks={p.xTicks}
            interval={0}
            height={axisH}
            tickSize={6}
            tickMargin={11}
            axisLine={axisStyle}
            tickLine={axisStyle}
            tick={<AngledTick labels={p.xLabels} />}
          />
          <YAxis
            type="number"
            dataKey="y"
            domain={p.yDomain}
            allowDataOverflow
            hide={!p.yTicks}
            ticks={p.yTicks}
            interval={0}
            width={axisW}
            tickSize={6}
            tickMargin={3}
            axisLine={axisStyle}
            tickLine={axisStyle}
            tick={{ fontSize: 36, fill: "#000", fontFamily: FONT }}
          />
          <Scatter
            data={p.points}
            isAnimationActive={false}
            shape={(s: any) => <circle cx={s.cx} cy={s.cy} r={p.r} fill="#000" />}
          />
        </ComposedChart>
      </div>
      {p.fit && (
        <div style={box}>
          {/* smoother layer drawn above the points */}
          <ComposedChart
            width={W}
            height={H}
            data={fitData}
            margin={{ top: PAD, right: 0, bottom: PAD + axisH, left: padL + axisW }}
          >
            <XAxis type="number" dataKey="x" domain={p.xDomain} allowDataOverflow hide />
            <YAxis type="number" domain={p.yDomain} allowDataOverflow hide />
            <Area
              dataKey="band"
              type="monotone"
              stroke="none"
              fill="#999999"
              fillOpacity={0.4}
              isAnimationActive={false}
              activeDot={false}
            />
            <Line
              dataKey="fit"
              type="linear"
              stroke="#3366FF"
              strokeWidth={2}
              dot={false}
              activeDot={false}
              isAnimationActive={false}
            />
          </ComposedChart>
        </div>
      )}
    </>
  );
}

const CorLabel = ({ x, y, r, p }: { x: number; y: number; r: string; p: string }) => (
  <text x={x} y={y} fontSize={21} fontFamily={FONT} fill="#000" style={{ whiteSpace: "pre" }}>
    <tspan fontStyle="italic">R</tspan>
    <tspan>{" = " + r + " , "}</tspan>
    <tspan fontStyle="italic">p</tspan>
    <tspan>{" = " + p}</tspan>
  </text>
);

export default function App() {
  const tumorSets = [tumorBreast, tumorColon, tumorThyroid, tumorUterus];
  const normalSets = [normalBreast, normalColon, normalThyroid, normalUterus];
  const tumorFits = [tumorBreastFit, tumorColonFit, tumorThyroidFit, tumorUterusFit];
  const normalFits = [normalBreastFit, normalColonFit, normalThyroidFit, normalUterusFit];
  const gtexSets = [gtexBreast, gtexColon, gtexThyroid, gtexUterus];

  return (
    <div
      style={{
        position: "absolute",
        left: 0,
        top: 0,
        width: 1378,
        height: 740,
        background: "#fff",
        overflow: "hidden",
        fontFamily: FONT,
      }}
    >
      {tissues.map((t, i) => (
        <React.Fragment key={t}>
          <Panel
            left={tumorCol.left}
            top={rowTop[i]}
            width={tumorCol.width}
            height={rowHeight[i]}
            xDomain={tumorX}
            yDomain={rnaDomains[i]}
            yTicks={rnaTicks[i]}
            xTicks={i === 3 ? tumorAgeTicks : undefined}
            points={toPts(tumorSets[i])}
            fit={tumorFits[i]}
            r={3.2}
          />
          <Panel
            left={normalCol.left}
            top={rowTop[i]}
            width={normalCol.width}
            height={rowHeight[i]}
            xDomain={normalX}
            yDomain={rnaDomains[i]}
            xTicks={i === 3 ? normalAgeTicks : undefined}
            points={toPts(normalSets[i])}
            fit={normalFits[i]}
            r={3.2}
          />
          <Panel
            left={gtexCol.left}
            top={rowTop[i]}
            width={gtexCol.width}
            height={rowHeight[i]}
            xDomain={gtexX}
            yDomain={gtexDomains[i]}
            yTicks={gtexTicks[i]}
            xTicks={i === 3 ? gtexAgeTicks : undefined}
            xLabels={ageGroups}
            points={gtexPts(gtexSets[i])}
            r={2.5}
          />
        </React.Fragment>
      ))}

      <svg
        width={1378}
        height={740}
        style={{ position: "absolute", left: 0, top: 0, pointerEvents: "none" }}
        fontFamily={FONT}
      >
        {/* column strips */}
        {[
          { c: tumorCol, label: "Tumor" },
          { c: normalCol, label: "Normal" },
          { c: gtexCol, label: "GTEx" },
        ].map(({ c, label }) => (
          <g key={label}>
            <rect x={c.left + 0.5} y={-8} width={c.width} height={58} fill="#EFEFEF" stroke="#444" strokeWidth={1} />
            <text x={c.left + c.width / 2} y={32} textAnchor="middle" fontSize={30} fill="#1A1A1A">
              {label}
            </text>
          </g>
        ))}
        {/* row strips */}
        {tissues.map((t, i) =>
          [848, 1313].map((sx) => (
            <g key={t + sx}>
              <rect x={sx + 0.5} y={rowTop[i] + 0.5} width={57} height={rowHeight[i]} fill="#EFEFEF" stroke="#444" strokeWidth={1} />
              <text
                transform={`translate(${sx + 29},${rowTop[i] + rowHeight[i] / 2}) rotate(90)`}
                textAnchor="middle"
                dy="0.35em"
                fontSize={30}
                fill="#1A1A1A"
              >
                {t}
              </text>
            </g>
          ))
        )}
        {/* correlation labels */}
        {tissues.map((t, i) => (
          <g key={"cor" + t}>
            <CorLabel x={tumorCol.left + 16} y={rowTop[i] + 28} r={tumorR[i]} p={tumorP[i]} />
            <CorLabel x={normalCol.left + 16} y={rowTop[i] + 28} r={normalR[i]} p={normalP[i]} />
          </g>
        ))}
        {/* axis titles */}
        <text x={692} y={727} textAnchor="middle" fontSize={37} fill="#000">
          Chronological Age
        </text>
        <text transform="translate(39,316) rotate(-90)" textAnchor="middle" fontSize={37} fill="#000">
          RNA Age
        </text>
        {/* preprint notice */}
        <text x={77} y={19} fontSize={21.4} fill="#000" style={{ whiteSpace: "pre" }}>
          <tspan fill="#0000FF" fontWeight="bold">(which was not certified by peer review)</tspan>
          <tspan>{" is the author/funder, who has granted medRxiv a license to display the preprint in perpetuity."}</tspan>
        </text>
        <text x={388} y={39.5} fontSize={21.4} fill="#000" style={{ whiteSpace: "pre" }}>
          <tspan>{"It is made available under a "}</tspan>
          <tspan fill="#0000FF">CC-BY-NC-ND 4.0 International license</tspan>
          <tspan>{" ."}</tspan>
        </text>
      </svg>
    </div>
  );
}
